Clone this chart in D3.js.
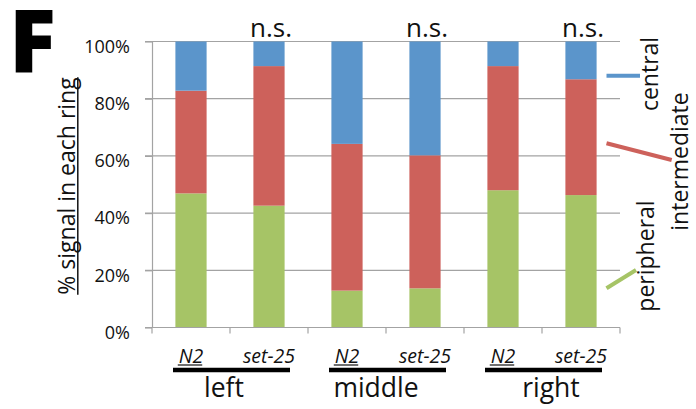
<!DOCTYPE html>
<html>
<head>
<meta charset="utf-8">
<script src="https://cdn.jsdelivr.net/npm/d3@7"></script>
<style>
  html, body { margin: 0; padding: 0; background: #fff; }
  svg { display: block; font-family: "Open Sans", sans-serif; }
</style>
</head>
<body>
<svg id="chart" width="696" height="409"></svg>
<script>
// Bars: strain within each ring position
const bars = ["left-N2", "left-set25", "middle-N2", "middle-set25", "right-N2", "right-set25"];
const strainLabels = ["N2", "set-25", "N2", "set-25", "N2", "set-25"];
const groupLabels = ["left", "middle", "right"];

// Fraction of signal in each ring (stacked bottom to top)
const peripheral   = [46.9, 42.6, 12.9, 13.7, 48.0, 46.3];
const intermediate = [35.9, 48.8, 51.3, 46.5, 43.4, 40.5];
const central      = [17.2,  8.6, 35.8, 39.8,  8.6, 13.2];

const seriesKeys = ["peripheral", "intermediate", "central"];
const seriesColors = ["#a6c466", "#cd615b", "#5b95cb"];
const yTicks = [0, 20, 40, 60, 80, 100];
const sigLabels = ["n.s.", "n.s.", "n.s."];

// table for d3.stack
const table = bars.map((b, i) => ({
  bar: b,
  peripheral: peripheral[i],
  intermediate: intermediate[i],
  central: central[i]
}));

const svg = d3.select("#chart");

const plotLeft = 152, plotRight = 620, plotTop = 41.5, plotBottom = 327.5;

const xCat = d3.scaleBand().domain(bars).range([plotLeft, plotRight]).padding(0);
const barFrac = 0.4;
const y = d3.scaleLinear().domain([0, 100]).range([plotBottom, plotTop]);
const color = d3.scaleOrdinal().domain(seriesKeys).range(seriesColors);

// horizontal gridlines
svg.append("g")
  .selectAll("line")
  .data(yTicks)
  .join("line")
  .attr("x1", plotLeft - 7)
  .attr("x2", plotRight)
  .attr("y1", d => y(d))
  .attr("y2", d => y(d))
  .attr("stroke", "#a3a3a3")
  .attr("stroke-width", 1.2);

// y axis with tick labels
const yAxis = svg.append("g")
  .attr("transform", `translate(${plotLeft},0)`)
  .call(d3.axisLeft(y).tickValues(yTicks).tickFormat(d => d + "%").tickSize(7).tickSizeOuter(0).tickPadding(15));
yAxis.select(".domain").attr("stroke", "#a3a3a3").attr("stroke-width", 1.2);
yAxis.selectAll(".tick line").attr("stroke", "#a3a3a3").attr("stroke-width", 1.2);
yAxis.selectAll(".tick text")
  .attr("font-family", "Open Sans")
  .attr("font-size", 18)
  .attr("fill", "#111")
  .attr("dy", "0.6em");

// stacked bars
const stacked = d3.stack().keys(seriesKeys)(table);
svg.append("g")
  .selectAll("g")
  .data(stacked)
  .join("g")
  .attr("fill", d => color(d.key))
  .selectAll("rect")
  .data(d => d)
  .join("rect")
  .attr("x", d => xCat(d.data.bar) + xCat.bandwidth() * (1 - barFrac) / 2)
  .attr("width", xCat.bandwidth() * barFrac)
  .attr("y", d => y(d[1]))
  .attr("height", d => y(d[0]) - y(d[1]));

// x axis baseline and category boundary ticks
const xAxis = svg.append("g");
xAxis.append("line")
  .attr("x1", plotLeft).attr("x2", plotRight)
  .attr("y1", plotBottom).attr("y2", plotBottom)
  .attr("stroke", "#a3a3a3").attr("stroke-width", 1.2);
const boundaries = bars.map(b => xCat(b)).concat([plotRight]);
xAxis.selectAll("line.tk")
  .data(boundaries)
  .join("line")
  .attr("class", "tk")
  .attr("x1", d => d).attr("x2", d => d)
  .attr("y1", plotBottom).attr("y2", plotBottom + 6)
  .attr("stroke", "#a3a3a3").attr("stroke-width", 1.2);

// strain labels under each bar
const strainG = svg.append("g");
strainLabels.forEach((lab, i) => {
  const cx = xCat(bars[i]) + xCat.bandwidth() / 2;
  const t = strainG.append("text")
    .attr("x", cx)
    .attr("y", 363)
    .attr("text-anchor", "middle")
    .attr("font-size", 19.5)
    .attr("font-style", "italic")
    .attr("fill", "#111")
    .text(lab);
  if (lab === "N2") {
    const w = t.node().getComputedTextLength();
    strainG.append("line")
      .attr("x1", cx - w / 2 - 1).attr("x2", cx + w / 2 - 1)
      .attr("y1", 365).attr("y2", 365)
      .attr("stroke", "#111").attr("stroke-width", 1.2);
  }
});

// group bars and labels (labels nudged as hand-placed in the figure)
const groupNudge = [-6, -10, 9];
const groupG = svg.append("g");
groupLabels.forEach((lab, g) => {
  const a = xCat(bars[2 * g]);
  const b = xCat(bars[2 * g + 1]) + xCat.bandwidth();
  const mid = (a + b) / 2;
  groupG.append("line")
    .attr("x1", a + 21).attr("x2", b - 18)
    .attr("y1", 370).attr("y2", 370)
    .attr("stroke", "#000").attr("stroke-width", 4.6);
  groupG.append("text")
    .attr("x", mid + groupNudge[g])
    .attr("y", 396.5)
    .attr("text-anchor", "middle")
    .attr("font-size", 26.5)
    .attr("fill", "#111")
    .text(lab);
});

// significance labels above the set-25 bars
svg.append("g")
  .selectAll("text")
  .data(sigLabels)
  .join("text")
  .attr("x", (d, g) => xCat(bars[2 * g + 1]) + xCat.bandwidth() / 2 + 2)
  .attr("y", 36.5)
  .attr("text-anchor", "middle")
  .attr("font-size", 26)
  .attr("fill", "#111")
  .text(d => d);

// y axis title, rotated and underlined
const yTitle = svg.append("g").attr("transform", "translate(74.5,186) rotate(-90)");
const yt = yTitle.append("text")
  .attr("text-anchor", "middle")
  .attr("font-size", 23)
  .attr("fill", "#111")
  .text("% signal in each ring");
const ytw = yt.node().getComputedTextLength();
yTitle.append("line")
  .attr("x1", -ytw / 2).attr("x2", ytw / 2)
  .attr("y1", 3.3).attr("y2", 3.3)
  .attr("stroke", "#111").attr("stroke-width", 1.5);

// legend: short colored leader lines with rotated names
const legendItems = [
  { key: "central",      x1: 606.5, y1: 75.7,  x2: 640,   y2: 75.7,  tx: 658, ty: 74 },
  { key: "intermediate", x1: 606.5, y1: 143.3, x2: 671.7, y2: 160,   tx: 688, ty: 161.5 },
  { key: "peripheral",   x1: 606.5, y1: 288.3, x2: 636,   y2: 270,   tx: 654, ty: 256 }
];
const legend = svg.append("g");
legend.selectAll("line")
  .data(legendItems)
  .join("line")
  .attr("x1", d => d.x1).attr("y1", d => d.y1)
  .attr("x2", d => d.x2).attr("y2", d => d.y2)
  .attr("stroke", d => color(d.key))
  .attr("stroke-width", 4);
legend.selectAll("text")
  .data(legendItems)
  .join("text")
  .attr("transform", d => `translate(${d.tx},${d.ty}) rotate(-90)`)
  .attr("text-anchor", "middle")
  .attr("font-size", 23)
  .attr("fill", "#111")
  .text(d => d.key);

// panel letter
svg.append("text")
  .attr("x", 9)
  .attr("y", 72)
  .attr("font-size", 87)
  .attr("font-weight", 800)
  .attr("fill", "#000")
  .text("F");
</script>
</body>
</html>
